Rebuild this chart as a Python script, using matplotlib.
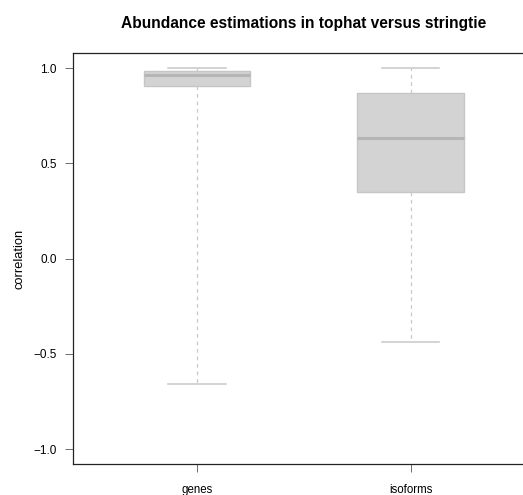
import matplotlib
matplotlib.use("Agg")
import matplotlib.pyplot as plt

plt.rcParams['font.family'] = ['Liberation Sans', 'DejaVu Sans']

# boxplot summaries
labels = ["genes", "isoforms"]
medians = [0.966, 0.631]
q1 = [0.905, 0.352]
q3 = [0.987, 0.868]
whislo = [-0.658, -0.436]
whishi = [1.0, 1.0]

stats = []
for i in range(len(labels)):
    stats.append(dict(label=labels[i], med=medians[i], q1=q1[i], q3=q3[i],
                      whislo=whislo[i], whishi=whishi[i], fliers=[]))

fig = plt.figure(figsize=(5.23, 4.95), dpi=100)
ax = fig.add_axes([0.1396, 0.062, 0.8822, 0.831])

ax.bxp(stats, positions=[1, 2], widths=0.5, patch_artist=True,
       boxprops=dict(facecolor='#d3d3d3', edgecolor='#c6c6c6', linewidth=1),
       medianprops=dict(color='#b5b5b5', linewidth=2.2),
       whiskerprops=dict(color='#c8c8c8', linestyle=(0, (3, 3)), linewidth=0.9),
       capprops=dict(color='#c8c8c8', linewidth=1.1),
       capwidths=0.27)

ax.set_xlim(0.42, 2.58)
ax.set_ylim(-1.08, 1.08)
ax.set_yticks([-1.0, -0.5, 0.0, 0.5, 1.0])
ax.set_yticklabels(["\u22121.0", "\u22120.5", "0.0", "0.5", "1.0"])
ax.set_xticks([1, 2])
ax.set_xticklabels(labels)

ax.tick_params(axis='y', length=5.5, width=0.6, color='#555555', pad=6, labelsize=8.5)
ax.tick_params(axis='x', length=5.5, width=0.6, color='#555555', pad=9, labelsize=8.3)
for s in ax.spines.values():
    s.set_linewidth(0.9)
    s.set_color('#222222')

ax.set_ylabel("correlation", fontsize=9.3, labelpad=6)
ax.set_title("Abundance estimations in tophat versus stringtie",
             fontsize=11.2, fontweight='bold', pad=18)

fig.savefig("out.png", dpi=100)
